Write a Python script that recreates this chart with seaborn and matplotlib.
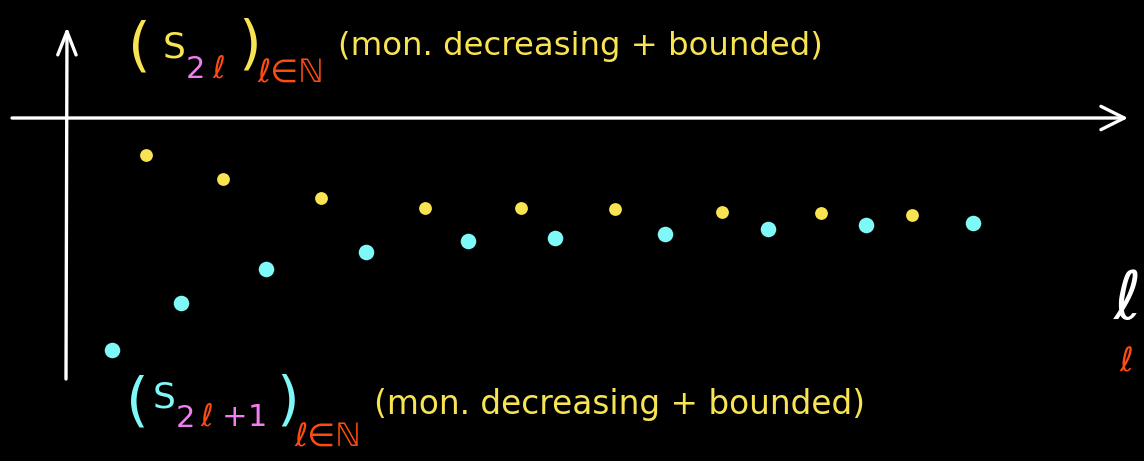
import matplotlib
matplotlib.use("Agg")
import matplotlib.pyplot as plt
import seaborn as sns
import pandas as pd

# ---- data (units: pixels from the axis crossing, y up) ----
ell_even = [80, 157, 255, 359, 455, 549, 656, 755, 846]
s_even = [-37, -61, -80, -90, -90, -91, -94, -95, -97]
ell_odd = [46, 115, 200, 300, 402, 489, 599, 702, 800, 907]
s_odd = [-232, -185, -151, -134, -123, -120, -116, -111, -107, -105]

desc = "(mon. decreasing + bounded)"

YEL = "#f8e452"
CYA = "#7ff8f8"
PNK = "#f07ef0"
RED = "#ff4a12"
WHT = "#ffffff"

sns.set_theme(style="white")
plt.rcParams["font.family"] = ["DejaVu Sans", "Noto Sans CJK SC"]

W, H = 1144, 461
OX, OY = 66, 118
fig = plt.figure(figsize=(W / 100, H / 100), dpi=100, facecolor="black")
ax = fig.add_axes([0, 0, 1, 1])
ax.set_facecolor("black")
ax.set_xlim(-OX, W - OX)
ax.set_ylim(OY - H, OY)
ax.axis("off")

df_even = pd.DataFrame({"l": ell_even, "s": s_even})
df_odd = pd.DataFrame({"l": ell_odd, "s": s_odd})
sns.scatterplot(data=df_even, x="l", y="s", color=YEL, s=85, linewidth=0, ax=ax)
sns.scatterplot(data=df_odd, x="l", y="s", color=CYA, s=125, linewidth=0, ax=ax)


def P(px, py):
    return (px - OX, OY - py)


# axes with open arrows
ax.annotate("", xy=P(1128, 118), xytext=P(12, 118),
            arrowprops=dict(arrowstyle="->,head_length=1.4,head_width=0.7",
                            color=WHT, lw=2.4, shrinkA=0, shrinkB=0))
ax.annotate("", xy=P(67, 27), xytext=P(66, 379),
            arrowprops=dict(arrowstyle="->,head_length=1.4,head_width=0.55",
                            color=WHT, lw=2.4, shrinkA=0, shrinkB=0))


def T(px, py, s, c, size, **kw):
    x, y = P(px, py)
    ax.text(x, y, s, color=c, fontsize=size, ha="left", va="center", **kw)


# top label (S_{2l})_{l in N}
T(128, 48, "(", YEL, 42)
T(163, 47, "S", YEL, 26)
T(186, 70, "2", PNK, 22)
T(212, 69, "ℓ", RED, 22)
T(238, 46, ")", YEL, 42)
T(257, 74, "ℓ∈ℕ", RED, 23)
T(338, 47, desc, YEL, 23.3)

# bottom label (S_{2l+1})_{l in N}
T(126, 403, "(", CYA, 42)
T(153, 397, "S", CYA, 26)
T(176, 418, "2", PNK, 22)
T(200, 417, "ℓ", RED, 22)
T(222, 417, "+", PNK, 22)
T(248, 417, "1", PNK, 22)
T(276, 402, ")", CYA, 42)
T(294, 438, "ℓ∈ℕ", RED, 23)
T(374, 404, desc, YEL, 23.6)

# right axis label
T(1114, 300, "ℓ", WHT, 48)
T(1119, 362, "ℓ", RED, 24)

fig.savefig("out.png", dpi=100, facecolor="black")
